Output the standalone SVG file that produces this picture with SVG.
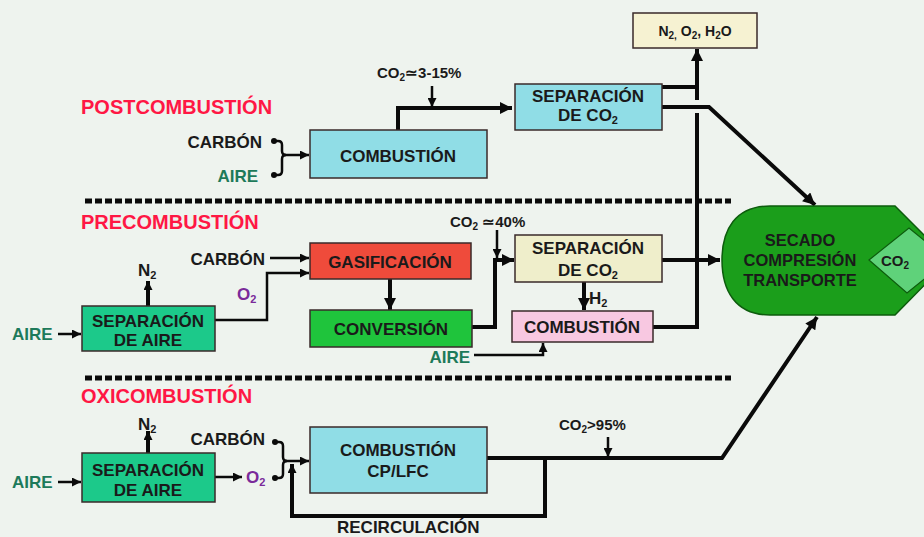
<svg xmlns="http://www.w3.org/2000/svg" width="924" height="537" viewBox="0 0 924 537">
<style>
.bx{stroke:#3a2a2a;stroke-width:1.5}
.t{font-family:"Liberation Sans",Arial,sans-serif;font-weight:bold;fill:#1a1a1a}
.b17{font-size:17px}
.b15{font-size:15px}
.b14{font-size:14px}
.ttl{font-family:"Liberation Sans",Arial,sans-serif;font-weight:bold;font-size:20px;fill:#ff1744}
.teal{fill:#1d7a5a}
.pur{fill:#7a2a9a}
.ln{fill:none;stroke:#0a0a0a;stroke-width:4;stroke-linejoin:miter}
.th{fill:none;stroke:#0a0a0a;stroke-width:2.5}
.dash{fill:none;stroke:#0a0a0a;stroke-width:5;stroke-dasharray:7 3}
.mid{text-anchor:middle}
.end{text-anchor:end}
</style>
<defs>
<marker id="a" viewBox="0 0 10 10" refX="10" refY="5" markerWidth="13" markerHeight="12" markerUnits="userSpaceOnUse" orient="auto"><path d="M0,0 L10,5 L0,10 z" fill="#0a0a0a"/></marker>
<marker id="s" viewBox="0 0 10 10" refX="10" refY="5" markerWidth="10" markerHeight="9" markerUnits="userSpaceOnUse" orient="auto"><path d="M0,0 L10,5 L0,10 z" fill="#0a0a0a"/></marker>
</defs>
<rect width="924" height="537" fill="#eef3ee"/>

<!-- section titles and separators -->
<text class="ttl" x="81" y="114">POSTCOMBUSTIÓN</text>
<text class="ttl" x="81" y="229">PRECOMBUSTIÓN</text>
<text class="ttl" x="81" y="403">OXICOMBUSTIÓN</text>
<line class="dash" x1="85" y1="201" x2="731" y2="201"/>
<line class="dash" x1="85" y1="378" x2="731" y2="378"/>

<!-- connectors -->
<g id="connectors">
 <!-- post -->
 <path class="ln" d="M398,130 V108 H512" marker-end="url(#a)"/>
 <line class="th" x1="432" y1="86" x2="432" y2="107" marker-end="url(#s)"/>
 <path class="th" d="M275,141 H278 Q282,141 282,145 V151 Q282,155 286,155 Q282,155 282,159 V171 Q282,175 278,175 H275"/>
 <circle cx="274" cy="141" r="3" fill="#0a0a0a"/>
 <circle cx="274" cy="175" r="3" fill="#0a0a0a"/>
 <line class="th" x1="282" y1="155" x2="309" y2="155" marker-end="url(#s)"/>
 <path class="ln" d="M662,87 H697"/>
 <line class="ln" x1="697" y1="100" x2="697" y2="49" marker-end="url(#a)"/>
 <path class="ln" d="M662,107 H709 L815,205" marker-end="url(#a)"/>
 <path class="ln" d="M653,327 H697 V113"/>
 <!-- pre -->
 <line class="th" x1="270" y1="258" x2="309" y2="258" marker-end="url(#s)"/>
 <path class="th" d="M215,320 H267 V273 H309" marker-end="url(#s)"/>
 <line class="ln" x1="148" y1="306" x2="148" y2="281" marker-end="url(#s)"/>
 <line class="th" x1="58" y1="334" x2="81" y2="334" marker-end="url(#s)"/>
 <line class="ln" x1="390" y1="279" x2="390" y2="310" marker-end="url(#a)"/>
 <path class="ln" d="M472,327 H495 V260 H514" marker-end="url(#a)"/>
 <line class="th" x1="497" y1="230" x2="497" y2="258" marker-end="url(#s)"/>
 <line class="ln" x1="662" y1="260" x2="720" y2="260" marker-end="url(#a)"/>
 <line class="ln" x1="584" y1="282" x2="584" y2="310" marker-end="url(#a)"/>
 <path class="th" d="M474,355 H543 V343" marker-end="url(#s)"/>
 <!-- oxi -->
 <line class="ln" x1="148" y1="453" x2="148" y2="431" marker-end="url(#s)"/>
 <line class="th" x1="58" y1="482" x2="81" y2="482" marker-end="url(#s)"/>
 <line class="th" x1="215" y1="477" x2="242" y2="477" marker-end="url(#s)"/>
 <path class="th" d="M276,442 H279 Q283,442 283,446 V457 Q283,461 287,461 Q283,461 283,465 V474 Q283,478 279,478 H276"/>
 <circle cx="275" cy="442" r="3" fill="#0a0a0a"/>
 <circle cx="275" cy="478" r="3" fill="#0a0a0a"/>
 <line class="th" x1="283" y1="461" x2="309" y2="461" marker-end="url(#s)"/>
 <path class="ln" d="M487,458 H722 L817,317" marker-end="url(#a)"/>
 <path class="ln" d="M545,458 V516 H292 V464" marker-end="url(#s)"/>
 <line class="th" x1="608" y1="437" x2="608" y2="457" marker-end="url(#s)"/>
</g>

<!-- labels -->
<text class="t b15" x="377" y="78">CO<tspan font-size="10" dy="3">2</tspan><tspan dy="-3">≃3-15%</tspan></text>
<text class="t b17 end" x="262" y="148">CARBÓN</text>
<text class="t b17 end teal" x="258" y="182">AIRE</text>

<text class="t b17 end" x="265" y="265">CARBÓN</text>
<text class="t b17 pur" x="237" y="300">O<tspan font-size="11" dy="3">2</tspan></text>
<text class="t b17" x="138" y="276">N<tspan font-size="11" dy="3">2</tspan></text>
<text class="t b17 teal" x="12" y="340">AIRE</text>
<text class="t b15" x="450" y="227">CO<tspan font-size="10" dy="3">2</tspan><tspan dy="-3"> ≃40%</tspan></text>
<text class="t b17" x="589" y="304">H<tspan font-size="11" dy="3">2</tspan></text>
<text class="t b17 end teal" x="470" y="363">AIRE</text>

<text class="t b17" x="138" y="430">N<tspan font-size="11" dy="3">2</tspan></text>
<text class="t b17 end" x="265" y="445">CARBÓN</text>
<text class="t b17 teal" x="12" y="488">AIRE</text>
<text class="t b17 pur" x="246" y="483">O<tspan font-size="11" dy="3">2</tspan></text>
<text class="t b15" x="559" y="430">CO<tspan font-size="10" dy="3">2</tspan><tspan dy="-3">&gt;95%</tspan></text>
<text class="t b17" x="337" y="533">RECIRCULACIÓN</text>

<!-- nodes -->
<g id="n2o2h2o">
 <rect class="bx" x="633" y="13" width="124" height="35" fill="#f6f2d2"/>
 <text class="t b14 mid" x="695" y="36">N<tspan font-size="10" dy="3">2,</tspan><tspan dy="-3"> O</tspan><tspan font-size="10" dy="3">2</tspan><tspan dy="-3">, H</tspan><tspan font-size="10" dy="3">2</tspan><tspan dy="-3">O</tspan></text>
</g>
<g id="post-combustion">
 <rect class="bx" x="310" y="130" width="177" height="48" fill="#90dde6"/>
 <text class="t b17 mid" x="398" y="162">COMBUSTIÓN</text>
</g>
<g id="post-separacion">
 <rect class="bx" x="515" y="84" width="147" height="46" fill="#90dde6"/>
 <text class="t b17 mid" x="588" y="102">SEPARACIÓN</text>
 <text class="t b17 mid" x="588" y="121">DE CO<tspan font-size="11" dy="3">2</tspan></text>
</g>
<g id="pre-sep-aire">
 <rect class="bx" x="82" y="306" width="133" height="45" fill="#1cc98a"/>
 <text class="t b17 mid" x="148" y="327">SEPARACIÓN</text>
 <text class="t b17 mid" x="148" y="346">DE AIRE</text>
</g>
<g id="gasificacion">
 <rect class="bx" x="310" y="243" width="161" height="36" fill="#ef4b3b"/>
 <text class="t b17 mid" x="390" y="268">GASIFICACIÓN</text>
</g>
<g id="conversion">
 <rect class="bx" x="310" y="310" width="162" height="37" fill="#1fc43c"/>
 <text class="t b17 mid" x="391" y="335">CONVERSIÓN</text>
</g>
<g id="pre-separacion">
 <rect class="bx" x="515" y="235" width="147" height="47" fill="#efeecb"/>
 <text class="t b17 mid" x="588" y="254">SEPARACIÓN</text>
 <text class="t b17 mid" x="588" y="276">DE CO<tspan font-size="11" dy="3">2</tspan></text>
</g>
<g id="pre-combustion">
 <rect class="bx" x="512" y="311" width="141" height="31" fill="#f8c8e1"/>
 <text class="t b17 mid" x="582" y="333">COMBUSTIÓN</text>
</g>
<g id="oxi-sep-aire">
 <rect class="bx" x="82" y="453" width="133" height="49" fill="#1cc98a"/>
 <text class="t b17 mid" x="148" y="476">SEPARACIÓN</text>
 <text class="t b17 mid" x="148" y="496">DE AIRE</text>
</g>
<g id="oxi-combustion">
 <rect class="bx" x="310" y="427" width="177" height="66" fill="#90dde6"/>
 <text class="t b17 mid" x="398" y="456">COMBUSTIÓN</text>
 <text class="t b17 mid" x="398" y="477">CP/LFC</text>
</g>
<g id="secado">
 <path d="M770,206 H895 L949,260 L895,315 H770 C735,315 722,290 722,260 C722,230 735,206 770,206 Z" fill="#1b9e1b" stroke="#0d5c0d" stroke-width="1.5"/>
 <text class="t mid" x="800" y="246" font-size="16.5">SECADO</text>
 <text class="t mid" x="800" y="266" font-size="16.5">COMPRESIÓN</text>
 <text class="t mid" x="800" y="286" font-size="16.5">TRANSPORTE</text>
 <path d="M869,260 L909,228 L948,260 L907,293 Z" fill="#5fd27a" stroke="#0d5c0d" stroke-width="1.2"/>
 <text class="t b15" x="881" y="266">CO<tspan font-size="10" dy="3">2</tspan></text>
</g>
</svg>
